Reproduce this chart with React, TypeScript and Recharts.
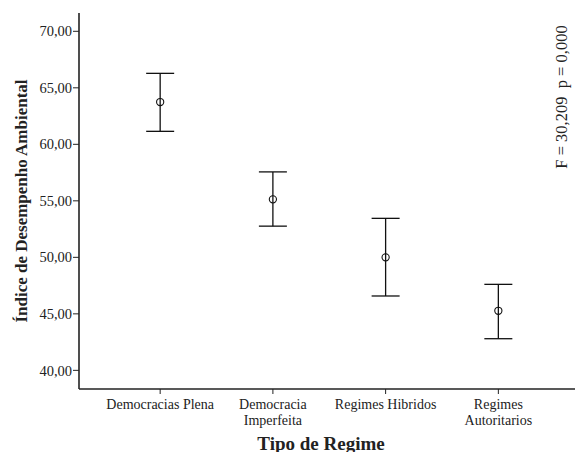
import React from "react";
import { ScatterChart, Scatter, XAxis, YAxis, ErrorBar, Label } from "recharts";

const CATEGORIES = ["Democracias Plena", "Democracia Imperfeita", "Regimes Hibridos", "Regimes Autoritarios"];
const TICK_LINES = [["Democracias Plena"], ["Democracia", "Imperfeita"], ["Regimes Hibridos"], ["Regimes", "Autoritarios"]];
const MEANS = [63.74, 55.13, 50.0, 45.27];
const LOWER = [61.15, 52.76, 46.58, 42.8];
const UPPER = [66.28, 57.56, 53.45, 47.61];
const Y_TICKS = [40, 45, 50, 55, 60, 65, 70];
const X_TICKS = [0, 1, 2, 3];
const ANNOTATION = "F = 30,209  p = 0,000";
const Y_TITLE = "Índice de Desempenho Ambiental";
const X_TITLE = "Tipo de Regime";

const FONT = '"Liberation Serif", "Times New Roman", serif';
const INK = "#222";

const data = CATEGORIES.map((name, i) => ({
  x: i,
  name,
  mean: MEANS[i],
  err: [MEANS[i] - LOWER[i], UPPER[i] - MEANS[i]],
}));

const XTick = (props: any) => {
  const { x, y, payload } = props;
  const lines = TICK_LINES[payload.value] || [];
  return (
    <text x={x} y={y} textAnchor="middle" fontFamily={FONT} fontSize={14} fill={INK}>
      {lines.map((l, i) => (
        <tspan key={i} x={x} dy={i === 0 ? 10 : 16}>
          {l}
        </tspan>
      ))}
    </text>
  );
};

const Marker = (props: any) => (
  <circle cx={props.cx} cy={props.cy} r={3.6} fill="none" stroke="#111" strokeWidth={1.1} />
);

export default function App() {
  return (
    <div style={{ position: "absolute", left: 0, top: 0, background: "#fff" }}>
      <ScatterChart width={576} height={452} margin={{ top: 13, right: 1, bottom: 0, left: 0 }}>
        <XAxis
          xAxisId="top"
          orientation="top"
          type="number"
          dataKey="x"
          domain={[-0.72, 3.68]}
          height={0}
          tick={false}
          tickLine={false}
          axisLine={{ stroke: INK, strokeWidth: 1.3 }}
        />
        <XAxis
          type="number"
          dataKey="x"
          domain={[-0.72, 3.68]}
          ticks={X_TICKS}
          allowDataOverflow
          height={63}
          tick={<XTick />}
          tickSize={5}
          tickMargin={5}
          tickLine={{ stroke: INK }}
          axisLine={{ stroke: INK, strokeWidth: 1.6 }}
          interval={0}
        >
          <Label
            content={(p: any) => {
              const vb = p.viewBox;
              return (
                <text
                  x={vb.x + vb.width / 2 - 6}
                  y={443}
                  textAnchor="middle"
                  dominantBaseline="central"
                  fontFamily={FONT}
                  fontSize={19}
                  fontWeight="bold"
                  fill={INK}
                >
                  {X_TITLE}
                </text>
              );
            }}
          />
        </XAxis>
        <YAxis
          type="number"
          domain={[38.35, 71.62]}
          ticks={Y_TICKS}
          allowDataOverflow
          width={79}
          tickSize={6}
          tickMargin={1}
          tickFormatter={(v: number) => v.toFixed(2).replace(".", ",")}
          tick={{ fontFamily: FONT, fontSize: 14.5, fill: INK }}
          tickLine={{ stroke: INK }}
          axisLine={{ stroke: INK, strokeWidth: 1.6 }}
        >
          <Label
            content={(p: any) => {
              const vb = p.viewBox;
              const cy = vb.y + vb.height / 2;
              return (
                <g>
                  <text
                    x={21}
                    y={cy}
                    transform={`rotate(-90, 21, ${cy})`}
                    textAnchor="middle"
                    dominantBaseline="central"
                    fontFamily={FONT}
                    fontSize={17}
                    fontWeight="bold"
                    fill={INK}
                  >
                    {Y_TITLE}
                  </text>
                  <text
                    x={561}
                    y={97}
                    transform={`rotate(-90, 561, 97)`}
                    textAnchor="middle"
                    dominantBaseline="central"
                    fontFamily={FONT}
                    fontSize={16.5}
                    fill={INK}
                    style={{ whiteSpace: "pre" }}
                  >
                    {ANNOTATION}
                  </text>
                </g>
              );
            }}
          />
        </YAxis>
        <Scatter data={data} dataKey="mean" shape={<Marker />} isAnimationActive={false}>
          <ErrorBar dataKey="err" direction="y" width={14} stroke="#111" strokeWidth={1.3} isAnimationActive={false} />
        </Scatter>
      </ScatterChart>
    </div>
  );
}
